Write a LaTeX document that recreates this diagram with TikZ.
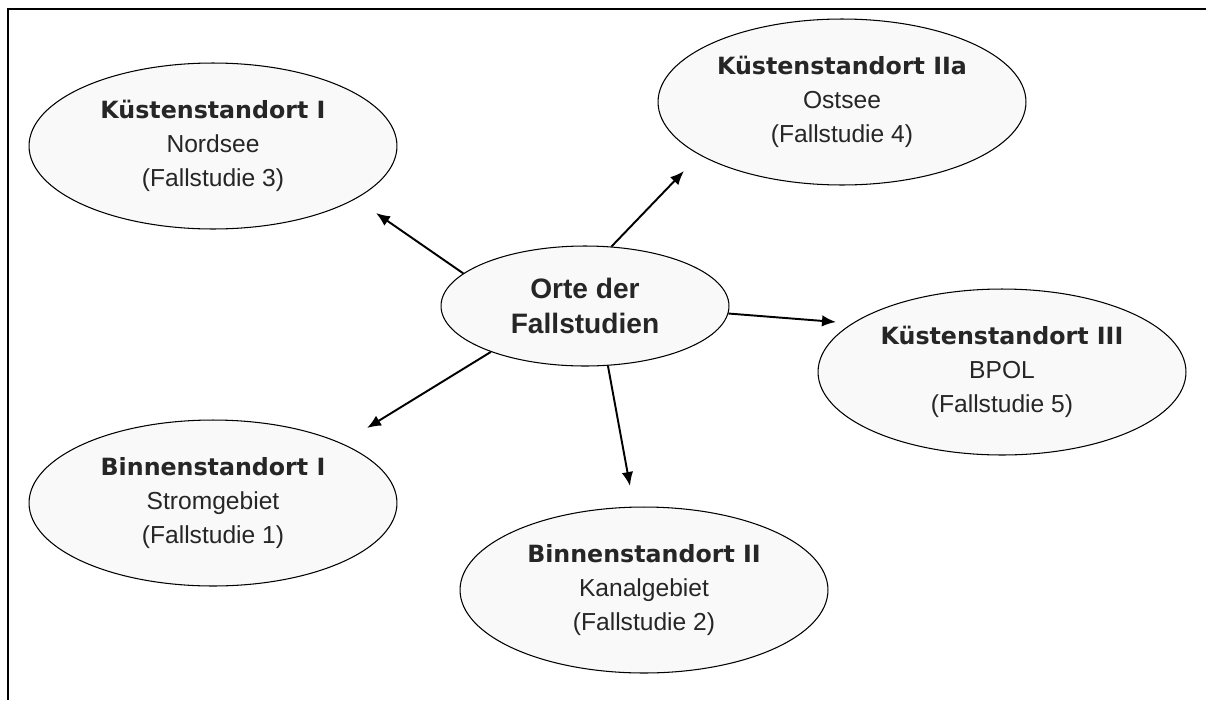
\documentclass[tikz,border=0pt]{standalone}
\usepackage{fontspec}
\setmainfont{Liberation Sans}
\newfontfamily\verd{DejaVu Sans}
\usetikzlibrary{shapes.geometric, arrows.meta}

\newcommand\titel[1]{{\verd\bfseries\fontsize{13.5}{19}\selectfont #1}}

\begin{document}
\begin{tikzpicture}[x=0.02cm, y=-0.02cm,
	ort/.style={ellipse, draw, fill=gray!5, line width=0.6pt, inner sep=0pt,
		minimum width=7.36cm, minimum height=3.32cm, align=center,
		text=black!85, font=\fontsize{14}{19.5}\selectfont},
	pfeil/.style={line width=1.1pt, -{Latex[length=2.8mm,width=2.3mm]}}]
	\useasboundingbox (0,0) rectangle (1206,700);
	\draw[line width=1.2pt] (8,700) -- (8,9) -- (1206,9);

	\node[ort] (k1) at (213,146) {\titel{Küstenstandort I}\\Nordsee\\(Fallstudie 3)};
	\node[ort] (k2a) at (842,102) {\titel{Küstenstandort IIa}\\Ostsee\\(Fallstudie 4)};
	\node[ort] (k3) at (1002,372) {\titel{Küstenstandort III}\\BPOL\\(Fallstudie 5)};
	\node[ort] (b1) at (213,503) {\titel{Binnenstandort I}\\Stromgebiet\\(Fallstudie 1)};
	\node[ort] (b2) at (644,590) {\titel{Binnenstandort II}\\Kanalgebiet\\(Fallstudie 2)};
	\node[ort, minimum width=5.76cm, minimum height=2.4cm,
		font=\fontsize{16}{20}\selectfont\bfseries] (mitte) at (585,306) {Orte der\\Fallstudien};

	% Pfeilspitzen
	\coordinate (t1) at (376,213);
	\coordinate (t2) at (684,171);
	\coordinate (t3) at (836,322);
	\coordinate (t4) at (367,428);
	\coordinate (t5) at (630,486);

	\draw[pfeil] (mitte.165) -- (t1);
	\draw[pfeil] (mitte.66) -- (t2);
	\draw[pfeil] (mitte.357) -- (t3);
	\draw[pfeil] (mitte.206) -- (t4);
	\draw[pfeil] (mitte.291) -- (t5);
\end{tikzpicture}
\end{document}
